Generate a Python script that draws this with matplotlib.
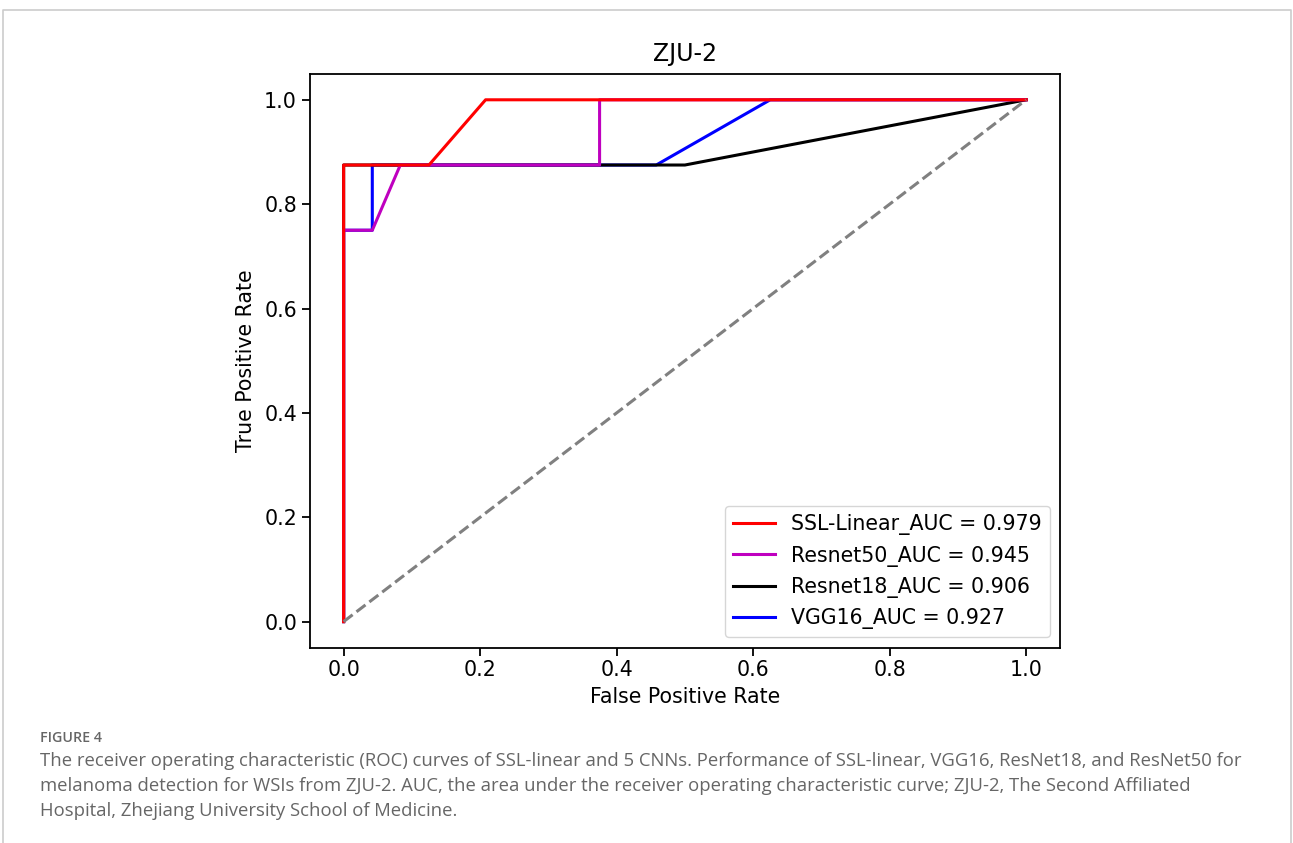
import numpy as np
import matplotlib.pyplot as plt
from matplotlib.lines import Line2D

# ROC points (24 negatives, 8 positives)
ssl_fpr = [0.0, 0.0, 0.125, 0.208, 1.0]
ssl_tpr = [0.0, 0.875, 0.875, 1.0, 1.0]

r50_fpr = [0.0, 0.0, 0.042, 0.083, 0.375, 0.375, 1.0]
r50_tpr = [0.0, 0.75, 0.75, 0.875, 0.875, 1.0, 1.0]

r18_fpr = [0.0, 0.0, 0.5, 1.0]
r18_tpr = [0.0, 0.875, 0.875, 1.0]

vgg_fpr = [0.0, 0.0, 0.042, 0.042, 0.458, 0.625, 1.0]
vgg_tpr = [0.0, 0.75, 0.75, 0.875, 0.875, 1.0, 1.0]

labels = ["SSL-Linear_AUC = 0.979", "Resnet50_AUC = 0.945",
          "Resnet18_AUC = 0.906", "VGG16_AUC = 0.927"]

plt.rcParams['font.family'] = ['DejaVu Sans']

W, H = 1293, 843
fig = plt.figure(figsize=(W / 100, H / 100), dpi=100)

# page frame around the figure
frame = Line2D([3 / W, 3 / W, 1291 / W, 1291 / W], [-0.01, 1 - 10 / H, 1 - 10 / H, -0.01],
               transform=fig.transFigure, color="#cccccc", lw=1.2)
fig.add_artist(frame)

ax = fig.add_axes([309.5 / W, 1 - 647.7 / H, (1060.3 - 309.5) / W, (647.7 - 73.7) / H])
lw = 2.2
fs = 14.8
# draw back to front so red ends up on top
h_vgg, = ax.plot(vgg_fpr, vgg_tpr, color="blue", lw=lw)
h_r18, = ax.plot(r18_fpr, r18_tpr, color="black", lw=lw)
h_r50, = ax.plot(r50_fpr, r50_tpr, color="m", lw=lw)
h_ssl, = ax.plot(ssl_fpr, ssl_tpr, color="red", lw=lw)
ax.plot([0, 1], [0, 1], color="gray", lw=lw, linestyle="--")

ax.set_xlim(-0.05, 1.05)
ax.set_ylim(-0.05, 1.05)
ax.tick_params(labelsize=fs, length=5.5, width=1.3)
for s in ax.spines.values():
    s.set_linewidth(1.3)
ax.set_xlabel("False Positive Rate", fontsize=fs, labelpad=5)
ax.set_ylabel("True Positive Rate", fontsize=fs, labelpad=6)
ax.set_title("ZJU-2", fontsize=17, pad=9)
ax.legend([h_ssl, h_r50, h_r18, h_vgg], labels, loc="lower right", fontsize=fs,
          handlelength=2.0)

fig.text(40 / W, 1 - 738 / H, "FIGURE 4", fontsize=10.3, color="#666666",
         family="Open Sans", weight="semibold", va="center")
caption = ("The receiver operating characteristic (ROC) curves of SSL-linear and 5 CNNs. "
           "Performance of SSL-linear, VGG16, ResNet18, and ResNet50 for\n"
           "melanoma detection for WSIs from ZJU-2. AUC, the area under the receiver "
           "operating characteristic curve; ZJU-2, The Second Affiliated\n"
           "Hospital, Zhejiang University School of Medicine.")
fig.text(40 / W, 1 - 752 / H, caption, fontsize=13.3, color="#666666",
         family="Open Sans", va="top", linespacing=1.5)

fig.savefig("out.png", dpi=100)
